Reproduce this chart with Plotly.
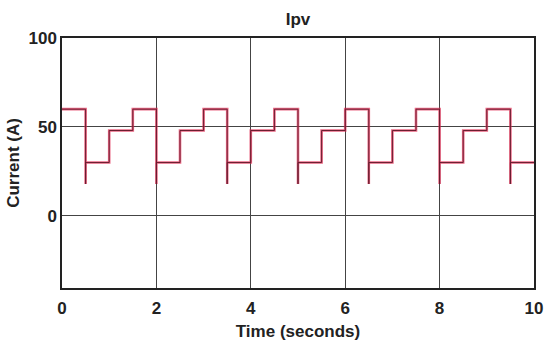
import plotly.graph_objects as go

# Segment boundaries (s) and current level in each segment (A)
edges = [0, 0.5, 1.0, 1.5, 2.0, 2.5, 3.0, 3.5, 4.0, 4.5, 5.0, 5.5, 6.0, 6.5,
         7.0, 7.5, 8.0, 8.5, 9.0, 9.5, 10.0]
levels = [60, 30, 48, 60, 30, 48, 60, 30, 48, 60, 30, 48, 60, 30, 48, 60, 30,
          48, 60, 30]
# Transient dips at the drops
spike_times = [0.5, 2.0, 3.5, 5.0, 6.5, 8.0, 9.5]
spike_values = [18, 18, 18, 18, 18, 18, 18]

x, y = [], []
for i, lvl in enumerate(levels):
    t0, t1 = edges[i], edges[i + 1]
    if t0 in spike_times:
        k = spike_times.index(t0)
        x.append(t0); y.append(spike_values[k])
    x += [t0, t1]
    y += [lvl, lvl]

fig = go.Figure()
fig.add_trace(go.Scatter(x=x, y=y, mode="lines",
                         line=dict(color="rgba(225,40,80,0.7)", width=2.6),
                         hoverinfo="skip", showlegend=False))
fig.add_trace(go.Scatter(x=x, y=y, mode="lines",
                         line=dict(color="#6a1d30", width=1),
                         showlegend=False))

fam = "Liberation Sans, Arial, sans-serif"
font = dict(family=fam, size=17, color="#222", weight="bold")
tfont = dict(family=fam, size=17, color="#222")
fig.update_layout(
    width=544, height=345,
    margin=dict(l=62, r=10, t=38, b=57),
    paper_bgcolor="white", plot_bgcolor="white",
    title=dict(text="<b>Ipv</b>", x=(62 + 534) / 2 / 544, xanchor="center",
               y=1 - 19 / 345, yanchor="middle", font=tfont),
    xaxis=dict(range=[0, 10], tickvals=[0, 2, 4, 6, 8, 10], ticktext=["0", "2", "4", "6", "8", "10"],
               showgrid=True, gridcolor="#444", gridwidth=1, zeroline=False,
               showline=True, linecolor="#222", linewidth=1.5, mirror=True,
               ticks="", tickfont=font, ticklabelstandoff=4, automargin=False,
               title=dict(text="<b>Time (seconds)</b>", font=tfont, standoff=8)),
    yaxis=dict(range=[-40.5, 100], tickvals=[0, 50, 100],
               showgrid=True, gridcolor="#444", gridwidth=1, zeroline=False,
               showline=True, linecolor="#222", linewidth=1.5, mirror=True,
               ticks="", tickfont=font, automargin=False,
               title=dict(text="<b>Current (A)</b>", font=tfont, standoff=5)),
)
fig.write_html("out.html")
